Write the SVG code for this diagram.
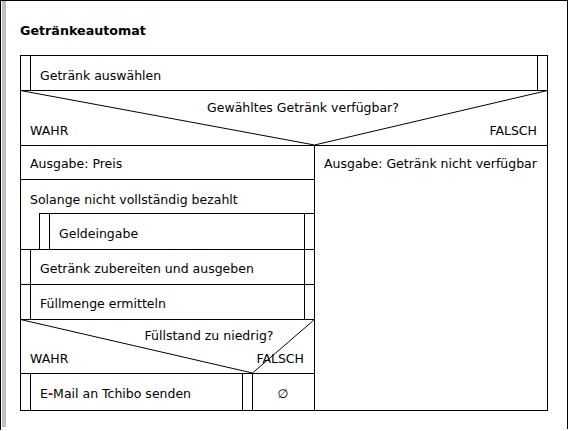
<svg xmlns="http://www.w3.org/2000/svg" width="568" height="431" viewBox="0 0 568 431">
<style>
text{font-family:"DejaVu Sans","Liberation Sans",sans-serif;font-size:12.5px;fill:#000}
.title{font-weight:bold;font-size:12.7px}
.ln{stroke:#000;stroke-width:1;fill:none}
.mid{text-anchor:middle}
.end{text-anchor:end}
</style>
<rect width="568" height="431" fill="#fff"/>
<g id="window">
<line class="ln" x1="0" y1="0.5" x2="568" y2="0.5"/>
<line class="ln" x1="0.5" y1="0" x2="0.5" y2="430"/>
<line class="ln" x1="567.5" y1="0" x2="567.5" y2="429"/>
<rect x="2" y="1" width="4" height="426" fill="#c0c0c0"/>
</g>
<text class="title" x="20" y="35">Getränkeautomat</text>
<g id="frame"><rect class="ln" x="20.5" y="55.5" width="527" height="355"/></g>
<g id="n1">
<line class="ln" x1="30.5" y1="55" x2="30.5" y2="90"/>
<line class="ln" x1="537.5" y1="55" x2="537.5" y2="90"/>
<line class="ln" x1="20" y1="90.5" x2="547" y2="90.5"/>
<text x="40" y="80">Getränk auswählen</text>
</g>
<g id="d1">
<polyline class="ln" points="20.5,90.5 314.5,145 547.5,90.5"/>
<line class="ln" x1="20" y1="145.5" x2="547" y2="145.5"/>
<text class="mid" x="303" y="112">Gewähltes Getränk verfügbar?</text>
<text x="30" y="135">WAHR</text>
<text class="end" x="537" y="135">FALSCH</text>
</g>
<g id="connectors">
<line class="ln" x1="314.5" y1="145" x2="314.5" y2="410"/>
</g>
<g id="n2">
<line class="ln" x1="20" y1="179.5" x2="314" y2="179.5"/>
<text x="30" y="168">Ausgabe: Preis</text>
</g>
<g id="n3">
<text x="324" y="168">Ausgabe: Getränk nicht verfügbar</text>
</g>
<g id="loop">
<text x="30" y="204">Solange nicht vollständig bezahlt</text>
<line class="ln" x1="39" y1="213.5" x2="314" y2="213.5"/>
<line class="ln" x1="39.5" y1="213" x2="39.5" y2="249"/>
</g>
<g id="n4">
<line class="ln" x1="49.5" y1="213" x2="49.5" y2="249"/>
<line class="ln" x1="304.5" y1="213" x2="304.5" y2="249"/>
<line class="ln" x1="20" y1="249.5" x2="314" y2="249.5"/>
<text x="59" y="238">Geldeingabe</text>
</g>
<g id="n5">
<line class="ln" x1="30.5" y1="249" x2="30.5" y2="319"/>
<line class="ln" x1="304.5" y1="249" x2="304.5" y2="319"/>
<line class="ln" x1="20" y1="284.5" x2="314" y2="284.5"/>
<text x="40" y="273">Getränk zubereiten und ausgeben</text>
</g>
<g id="n6">
<line class="ln" x1="20" y1="319.5" x2="314" y2="319.5"/>
<text x="40" y="308">Füllmenge ermitteln</text>
</g>
<g id="d2">
<polyline class="ln" points="20.5,319.5 252.5,373 314.5,319.5"/>
<line class="ln" x1="20" y1="373.5" x2="314" y2="373.5"/>
<text class="mid" x="209" y="340">Füllstand zu niedrig?</text>
<text x="30" y="363">WAHR</text>
<text class="end" x="304" y="363">FALSCH</text>
</g>
<g id="n7">
<line class="ln" x1="30.5" y1="373" x2="30.5" y2="410"/>
<line class="ln" x1="242.5" y1="373" x2="242.5" y2="410"/>
<line class="ln" x1="252.5" y1="373" x2="252.5" y2="410"/>
<text x="40" y="398">E<tspan fill="#a00000" font-weight="bold">-</tspan>Mail an Tchibo senden</text>
</g>
<g id="n8">
<text class="mid" x="283" y="398" fill="#333" font-size="11">∅</text>
</g>
</svg>
